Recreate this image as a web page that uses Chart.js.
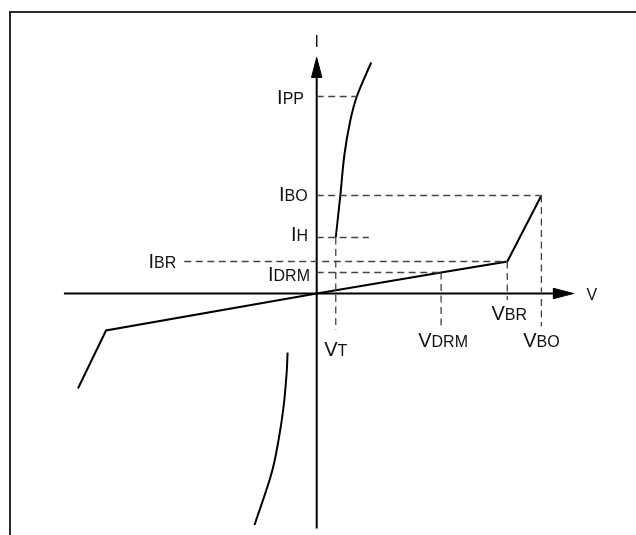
<!DOCTYPE html>
<html><head><meta charset="utf-8">
<script src="https://cdn.jsdelivr.net/npm/chart.js@4.4.1/dist/chart.umd.min.js"></script>
<style>
html,body{margin:0;padding:0;background:#fff;}
#wrap{position:relative;width:636px;height:535px;overflow:hidden;}
#frame{position:absolute;left:9px;top:11px;width:700px;height:600px;border-top:2px solid #2a2a2a;border-left:2px solid #2a2a2a;}
#box{position:absolute;left:0;top:0;width:636px;height:535px;}
</style></head><body>
<div id="wrap"><div id="frame"></div><div id="box"><canvas id="c"></canvas></div></div>
<script>
// Characteristic values (arbitrary units)
const Vt = 1.9, Vdrm = 12.4, Vbr = 19.0, Vbo = 22.4;
const Ipp = 19.7, Ibo = 9.8, Ih = 5.6, Ibr = 3.2, Idrm = 2.1;

// Off-state / reverse blocking characteristic
const offStateV = [-23.8, -21.0, 0, Vdrm, Vbr, Vbo];
const offStateI = [-9.5, -3.7, 0, Idrm, Ibr, Ibo];
// On-state characteristic (first quadrant)
const onStateV = [1.9, 2.36, 2.76, 3.33, 4.0, 5.43];
const onStateI = [5.6, 9.85, 13.85, 17.2, 19.7, 23.1];
// On-state characteristic (third quadrant)
const revOnV = [-2.9, -3.0, -3.3, -3.8, -4.5, -6.2];
const revOnI = [-5.9, -8.0, -11.3, -14.65, -17.98, -23.15];

// Axis extents and guide-line ends
const xAxisRange = [-25.2, 25.6];
const yAxisRange = [-23.5, 23.6];
const ibrStartV = -13.2, ihEndV = 5.2;
const vtEndI = -3.65, vdrmEndI = -3.3, vbrEndI = -0.65, vboEndI = -3.3;

const zip = (xs, ys) => xs.map((x, i) => ({x, y: ys[i]}));
const seg = (x1, y1, x2, y2) => [{x: x1, y: y1}, {x: x2, y: y2}];

const solid = (data, extra) => Object.assign({data, showLine: true, borderColor: '#000', borderWidth: 2, pointRadius: 0, tension: 0, fill: false}, extra || {});
const dashed = (data) => ({data, showLine: true, borderColor: '#444', borderWidth: 1.3, borderDash: [7, 4.5], pointRadius: 0, tension: 0, fill: false});

const arrowLen = 2.0, arrowHalf = 0.52;
const xTip = xAxisRange[1], yTip = yAxisRange[1];

const datasets = [
  dashed(seg(0, Ipp, onStateV[4], Ipp)),
  dashed(seg(0, Ibo, Vbo, Ibo)),
  dashed(seg(Vbo, Ibo, Vbo, vboEndI)),
  dashed(seg(0, Ih, ihEndV, Ih)),
  dashed(seg(Vt, Ih, Vt, vtEndI)),
  dashed(seg(ibrStartV, Ibr, Vbr, Ibr)),
  dashed(seg(Vbr, Ibr, Vbr, vbrEndI)),
  dashed(seg(0, Idrm, Vdrm, Idrm)),
  dashed(seg(Vdrm, Idrm, Vdrm, vdrmEndI)),
  solid(seg(xAxisRange[0], 0, xTip - arrowLen, 0)),
  solid(seg(0, yAxisRange[0], 0, yTip - arrowLen)),
  solid([{x: xTip, y: 0}, {x: xTip - arrowLen, y: arrowHalf}, {x: xTip - arrowLen, y: -arrowHalf}, {x: xTip, y: 0}], {fill: 'shape', backgroundColor: '#000', borderWidth: 1}),
  solid([{x: 0, y: yTip}, {x: -arrowHalf, y: yTip - arrowLen}, {x: arrowHalf, y: yTip - arrowLen}, {x: 0, y: yTip}], {fill: 'shape', backgroundColor: '#000', borderWidth: 1}),
  solid(zip(offStateV, offStateI)),
  solid(zip(onStateV, onStateI), {tension: 0.35}),
  solid(zip(revOnV, revOnI), {tension: 0.35})
];

const labels = [
  {t: 'I', s: '', x: 0, y: yTip, align: 'center', dx: 0, dy: -10.6, size: 16},
  {t: 'V', s: '', x: xTip, y: 0, align: 'left', dx: 13, dy: 6, size: 16},
  {t: 'I', s: 'PP', x: 0, y: Ipp, align: 'right', dx: -12.7, dy: 7.5},
  {t: 'I', s: 'BO', x: 0, y: Ibo, align: 'right', dx: -9, dy: 5},
  {t: 'I', s: 'H', x: 0, y: Ih, align: 'right', dx: -8.7, dy: 3.3},
  {t: 'I', s: 'BR', x: ibrStartV, y: Ibr, align: 'right', dx: -8, dy: 6.7},
  {t: 'I', s: 'DRM', x: 0, y: Idrm, align: 'right', dx: -6.7, dy: 8.7},
  {t: 'V', s: 'T', x: Vt, y: vtEndI, align: 'center', dx: 0, dy: 25.7},
  {t: 'V', s: 'DRM', x: Vdrm, y: vdrmEndI, align: 'center', dx: 2, dy: 20},
  {t: 'V', s: 'BR', x: Vbr, y: vbrEndI, align: 'center', dx: 2, dy: 20},
  {t: 'V', s: 'BO', x: Vbo, y: vboEndI, align: 'center', dx: 0, dy: 20}
];

const FONT = '"Liberation Sans", Arial, sans-serif';
const labelPlugin = {
  id: 'labels',
  afterDraw(chart) {
    const ctx = chart.ctx, xs = chart.scales.x, ys = chart.scales.y;
    ctx.save();
    ctx.fillStyle = '#111';
    ctx.textBaseline = 'alphabetic';
    ctx.textAlign = 'left';
    labels.forEach(l => {
      const mainF = (l.size || 20) + 'px ' + FONT;
      const subF = 16 + 'px ' + FONT;
      ctx.font = mainF; const w1 = ctx.measureText(l.t).width;
      ctx.font = subF; const w2 = l.s ? ctx.measureText(l.s).width : 0;
      const w = w1 + w2;
      let px = xs.getPixelForValue(l.x) + l.dx;
      const py = ys.getPixelForValue(l.y) + l.dy;
      if (l.align === 'right') px -= w; else if (l.align === 'center') px -= w / 2;
      ctx.font = mainF; ctx.fillText(l.t, px, py);
      if (l.s) { ctx.font = subF; ctx.fillText(l.s, px + w1, py); }
    });
    ctx.restore();
  }
};

new Chart(document.getElementById('c'), {
  type: 'scatter',
  data: {datasets},
  options: {
    animation: false,
    responsive: true,
    maintainAspectRatio: false,
    layout: {padding: 0},
    scales: {
      x: {type: 'linear', display: false, min: -31.57, max: 31.83},
      y: {type: 'linear', display: false, min: -24.15, max: 29.35}
    },
    plugins: {legend: {display: false}, tooltip: {enabled: false}},
    elements: {point: {radius: 0}}
  },
  plugins: [labelPlugin]
});
</script>
</body></html>
